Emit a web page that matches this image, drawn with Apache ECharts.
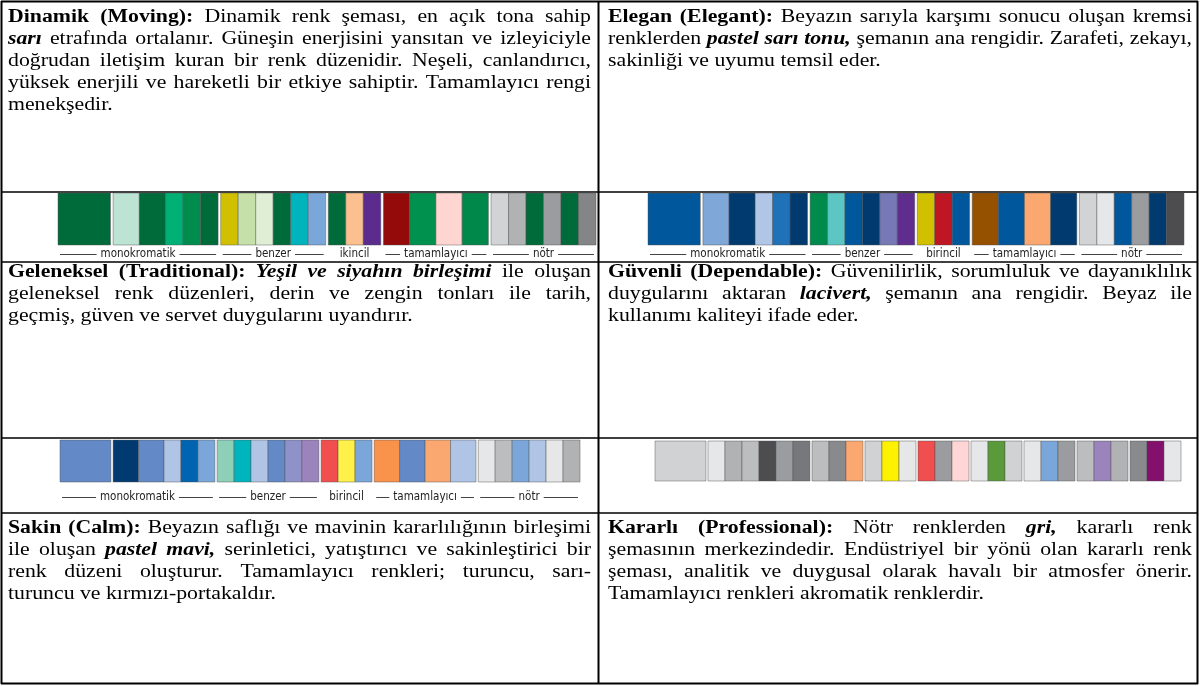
<!DOCTYPE html>
<html><head><meta charset="utf-8">
<script src="https://cdn.jsdelivr.net/npm/echarts@6/dist/echarts.min.js"></script>
<style>html,body{margin:0;padding:0;background:#fff}#c{width:1200px;height:686px}</style>
</head><body><div id="c"></div>
<script>
// ---------- DATA ----------
// Strip 1 : Dinamik (Moving)
const strip1Colors = ['#006b3a',
  '#bde3d2','#006b3a','#00b074','#008c4c','#006b3a',
  '#d0c000','#c5e0a8','#e0eed5','#006b3a','#00b4be','#7ba6d9',
  '#006b3a','#fcc090','#5b2c8e',
  '#940a0a','#00914f','#ffd5d2','#00884a',
  '#d2d3d5','#b1b2b4','#006b3a','#9b9c9f','#006b3a','#848586'];
const strip1Units = [3, 1.5,1.5,1,1,1, 1,1,1,1,1,1, 1,1,1, 1.5,1.5,1.5,1.5, 1,1,1,1,1,1];
const strip1GroupSizes = [1,5,6,3,4,6];
const strip1LabelNames = ['monokromatik','benzer','ikincil','tamamlayıcı','nötr'];
const strip1LabelGroups = [[0,1],[2,2],[3,3],[4,4],[5,5]];

// Strip 2 : Elegan (Elegant)
const strip2Colors = ['#00579b',
  '#7fa8d8','#003a6e','#b1c6e6','#1f72b8','#003a6e',
  '#008a4c','#5bc6c4','#00579b','#003a6e','#7779b6','#5e2d8e',
  '#d0c000','#be1622','#00579b',
  '#955000','#00579b','#faa870','#003a6e',
  '#d2d3d5','#e6e7e8','#00579b','#9b9c9f','#003a6e','#4d4d4f'];
const strip2Units = [3, 1.5,1.5,1,1,1, 1,1,1,1,1,1, 1,1,1, 1.5,1.5,1.5,1.5, 1,1,1,1,1,1];
const strip2GroupSizes = [1,5,6,3,4,6];
const strip2LabelNames = ['monokromatik','benzer','birincil','tamamlayıcı','nötr'];
const strip2LabelGroups = [[0,1],[2,2],[3,3],[4,4],[5,5]];

// Strip 3 : Geleneksel / Sakin
const strip3Colors = ['#6389c6',
  '#003a70','#6389c6','#b0c4e6','#0064b0','#7ba6d9',
  '#8ecfb8','#00b4be','#b0c4e6','#6389c6','#8e92c8','#9b84bc',
  '#f04e4f','#fff04a','#7ba6d9',
  '#f9924a','#6389c6','#faa870','#b0c4e6',
  '#e6e7e8','#bcbdbf','#7ba6d9','#b0c4e6','#e6e7e8','#b1b2b4'];
const strip3Units = [3, 1.5,1.5,1,1,1, 1,1,1,1,1,1, 1,1,1, 1.5,1.5,1.5,1.5, 1,1,1,1,1,1];
const strip3GroupSizes = [1,5,6,3,4,6];
const strip3LabelNames = ['monokromatik','benzer','birincil','tamamlayıcı','nötr'];
const strip3LabelGroups = [[0,1],[2,2],[3,3],[4,4],[5,5]];

// Strip 4 : Güvenli / Kararlı
const strip4Colors = ['#d1d2d4',
  '#e6e7e8','#b1b2b4','#bcbdbf','#4d4d4f','#9b9c9f','#77787b',
  '#bcbdbf','#898a8d','#faa870',
  '#d1d2d4','#fff200','#e6e7e8',
  '#f04e4f','#9b9c9f','#ffd5d5',
  '#e6e7e8','#5a9a3a','#d1d2d4',
  '#e6e7e8','#7ba6d9','#9b9c9f',
  '#bcbdbf','#9b84bc','#b1b2b4',
  '#898a8d','#84106e','#e6e7e8'];
const strip4Units = [3, 1,1,1,1,1,1, 1,1,1, 1,1,1, 1,1,1, 1,1,1, 1,1,1, 1,1,1, 1,1,1];
const strip4GroupSizes = [1,6,3,3,3,3,3,3,3];

// Cell texts (style: n normal, b bold, bi bold-italic)
const cell1Lines = [
  [['b','Dinamik (Moving):'],['n','Dinamik renk şeması, en açık tona sahip']],
  [['bi','sarı'],['n','etrafında ortalanır. Güneşin enerjisini yansıtan ve izleyiciyle']],
  [['n','doğrudan iletişim kuran bir renk düzenidir. Neşeli, canlandırıcı,']],
  [['n','yüksek enerjili ve hareketli bir etkiye sahiptir. Tamamlayıcı rengi']],
  [['n','menekşedir.']]];
const cell2Lines = [
  [['b','Elegan (Elegant):'],['n','Beyazın sarıyla karşımı sonucu oluşan kremsi']],
  [['n','renklerden'],['bi','pastel sarı tonu,'],['n','şemanın ana rengidir. Zarafeti, zekayı,']],
  [['n','sakinliği ve uyumu temsil eder.']]];
const cell3Lines = [
  [['b','Geleneksel (Traditional):'],['bi','Yeşil ve siyahın birleşimi'],['n','ile oluşan']],
  [['n','geleneksel renk düzenleri, derin ve zengin tonları ile tarih,']],
  [['n','geçmiş, güven ve servet duygularını uyandırır.']]];
const cell4Lines = [
  [['b','Güvenli (Dependable):'],['n','Güvenilirlik, sorumluluk ve dayanıklılık']],
  [['n','duygularını aktaran'],['bi','lacivert,'],['n','şemanın ana rengidir. Beyaz ile']],
  [['n','kullanımı kaliteyi ifade eder.']]];
const cell5Lines = [
  [['b','Sakin (Calm):'],['n','Beyazın saflığı ve mavinin kararlılığının birleşimi']],
  [['n','ile oluşan'],['bi','pastel mavi,'],['n','serinletici, yatıştırıcı ve sakinleştirici bir']],
  [['n','renk düzeni oluşturur. Tamamlayıcı renkleri; turuncu, sarı-']],
  [['n','turuncu ve kırmızı-portakaldır.']]];
const cell6Lines = [
  [['b','Kararlı (Professional):'],['n','Nötr renklerden'],['bi','gri,'],['n','kararlı renk']],
  [['n','şemasının merkezindedir. Endüstriyel bir yönü olan kararlı renk']],
  [['n','şeması, analitik ve duygusal olarak havalı bir atmosfer önerir.']],
  [['n','Tamamlayıcı renkleri akromatik renklerdir.']]];

// ---------- HELPERS ----------
const canvas = document.createElement('canvas');
const ctx = canvas.getContext('2d');
function measure(t, font){ ctx.font = font; return ctx.measureText(t).width; }
const SERIF = '"Liberation Serif", "Times New Roman", serif';
const FS = 18;
const SX = 1.21;
function fontOf(st){ return (st.indexOf('i')>=0?'italic ':'') + (st.indexOf('b')>=0?'bold ':'') + FS + 'px ' + SERIF; }
const LABEL_FONT = '11.5px "Liberation Sans Narrow", "DejaVu Sans Condensed", sans-serif';

function buildStrip(units, groupSizes, gap){
  const segs = []; const groups = [];
  let x = 0, k = 0;
  groupSizes.forEach((n, gi) => {
    if (gi > 0) x += gap;
    const gs = x;
    for (let j = 0; j < n; j++, k++) { segs.push([x, x + units[k], k]); x += units[k]; }
    groups.push([gs, x]);
  });
  return {segs, groups, total: x};
}

const strips = [
  {colors: strip1Colors, b: buildStrip(strip1Units, strip1GroupSizes, 0.15), names: strip1LabelNames, lg: strip1LabelGroups, box:{left:58, top:193, width:538, height:52}, lo: 9},
  {colors: strip2Colors, b: buildStrip(strip2Units, strip2GroupSizes, 0.15), names: strip2LabelNames, lg: strip2LabelGroups, box:{left:648, top:193, width:536, height:52}, lo: 9},
  {colors: strip3Colors, b: buildStrip(strip3Units, strip3GroupSizes, 0.13), names: strip3LabelNames, lg: strip3LabelGroups, box:{left:60, top:440, width:520, height:42}, lo: 15},
  {colors: strip4Colors, b: buildStrip(strip4Units, strip4GroupSizes, 0.12), names: null, lg: null, box:{left:655, top:441, width:526, height:40}, lo: 0}
];

const grid = [], xAxis = [], yAxis = [], series = [];
strips.forEach((s, i) => {
  grid.push(Object.assign({containLabel:false}, s.box));
  xAxis.push({type:'value', gridIndex:i, min:0, max:s.b.total, show:false});
  yAxis.push({type:'value', gridIndex:i, min:0, max:1, show:false});
  const cols = s.colors;
  series.push({
    type:'custom', xAxisIndex:i, yAxisIndex:i, clip:false, silent:true,
    data: s.b.segs,
    renderItem: function(params, api){
      const p0 = api.coord([api.value(0), 1]);
      const p1 = api.coord([api.value(1), 0]);
      return {type:'rect', shape:{x:p0[0], y:p0[1], width:p1[0]-p0[0], height:p1[1]-p0[1]},
        style:{fill: cols[api.value(2)], stroke:'rgba(80,80,80,0.45)', lineWidth:1}};
    }
  });
  if (s.names) {
    const names = s.names, off = s.lo;
    const ldata = s.lg.map((g, li) => [s.b.groups[g[0]][0], s.b.groups[g[1]][1], li]);
    series.push({
      type:'custom', xAxisIndex:i, yAxisIndex:i, clip:false, silent:true,
      data: ldata,
      renderItem: function(params, api){
        const a = api.coord([api.value(0), 0]);
        const b = api.coord([api.value(1), 0]);
        const name = names[api.value(2)];
        const cx = (a[0] + b[0]) / 2, y = Math.round(a[1] + off) + 0.5;
        const tw = measure(name, LABEL_FONT);
        const ch = [{type:'text', style:{text:name, x:cx, y:y, align:'center', verticalAlign:'middle', font:LABEL_FONT, fill:'#222'}}];
        const len = (b[0] - a[0] - tw) / 2 - 6;
        if (len > 10) {
          ch.push({type:'line', shape:{x1:cx - tw/2 - 4 - len, y1:y, x2:cx - tw/2 - 4, y2:y}, style:{stroke:'#444', lineWidth:1}});
          ch.push({type:'line', shape:{x1:cx + tw/2 + 4, y1:y, x2:cx + tw/2 + 4 + len, y2:y}, style:{stroke:'#444', lineWidth:1}});
        }
        return {type:'group', children: ch};
      }
    });
  }
});

// ---------- TEXT (justified) ----------
const graphics = [];
function layoutCell(lines, left, right, y0, lh){
  lines.forEach((segs, li) => {
    const words = [];
    segs.forEach(([st, txt]) => txt.split(/\s+/).filter(w => w).forEach(w => words.push({w, st, wd: measure(w, fontOf(st)) * SX})));
    const tot = words.reduce((s, o) => s + o.wd, 0);
    const last = li === lines.length - 1;
    let sp = measure(' ', fontOf('n')) * SX;
    if (!last && words.length > 1) sp = Math.max(2, (right - left - tot) / (words.length - 1));
    let x = left;
    const y = y0 + li * lh;
    words.forEach(o => {
      graphics.push({type:'text', x: x, y: y, scaleX: SX, scaleY: 1, silent:true,
        style:{text:o.w, x:0, y:0, font:fontOf(o.st), fill:'#000', align:'left', verticalAlign:'middle'}});
      x += o.wd + sp;
    });
  });
}
layoutCell(cell1Lines, 8, 591, 17, 22);
layoutCell(cell2Lines, 608, 1192, 17, 22);
layoutCell(cell3Lines, 8, 591, 272, 22);
layoutCell(cell4Lines, 608, 1192, 272, 22);
layoutCell(cell5Lines, 8, 591, 528, 22);
layoutCell(cell6Lines, 608, 1192, 528, 22);

// ---------- TABLE BORDERS ----------
function hline(x1, x2, y, w){ graphics.push({type:'line', silent:true, shape:{x1, y1:y, x2, y2:y}, style:{stroke:'#000', lineWidth:w||1.6}}); }
function vline(x, y1, y2, w){ graphics.push({type:'line', silent:true, shape:{x1:x, y1, x2:x, y2}, style:{stroke:'#000', lineWidth:w||1.6}}); }
hline(1, 1198, 1.5, 2);
hline(1, 1198, 683.5, 2);
vline(1.5, 1, 684, 2);
vline(1197.5, 1, 684, 2);
vline(598.5, 1, 684, 2);
hline(1, 1198, 192, 1.6);
hline(1, 1198, 262, 1.6);
hline(1, 1198, 438, 1.6);
hline(1, 1198, 513, 1.6);

const chart = echarts.init(document.getElementById('c'), null, {renderer:'canvas'});
chart.setOption({
  animation:false,
  backgroundColor:'#ffffff',
  grid, xAxis, yAxis, series,
  graphic:{elements: graphics}
});
</script>
</body></html>
